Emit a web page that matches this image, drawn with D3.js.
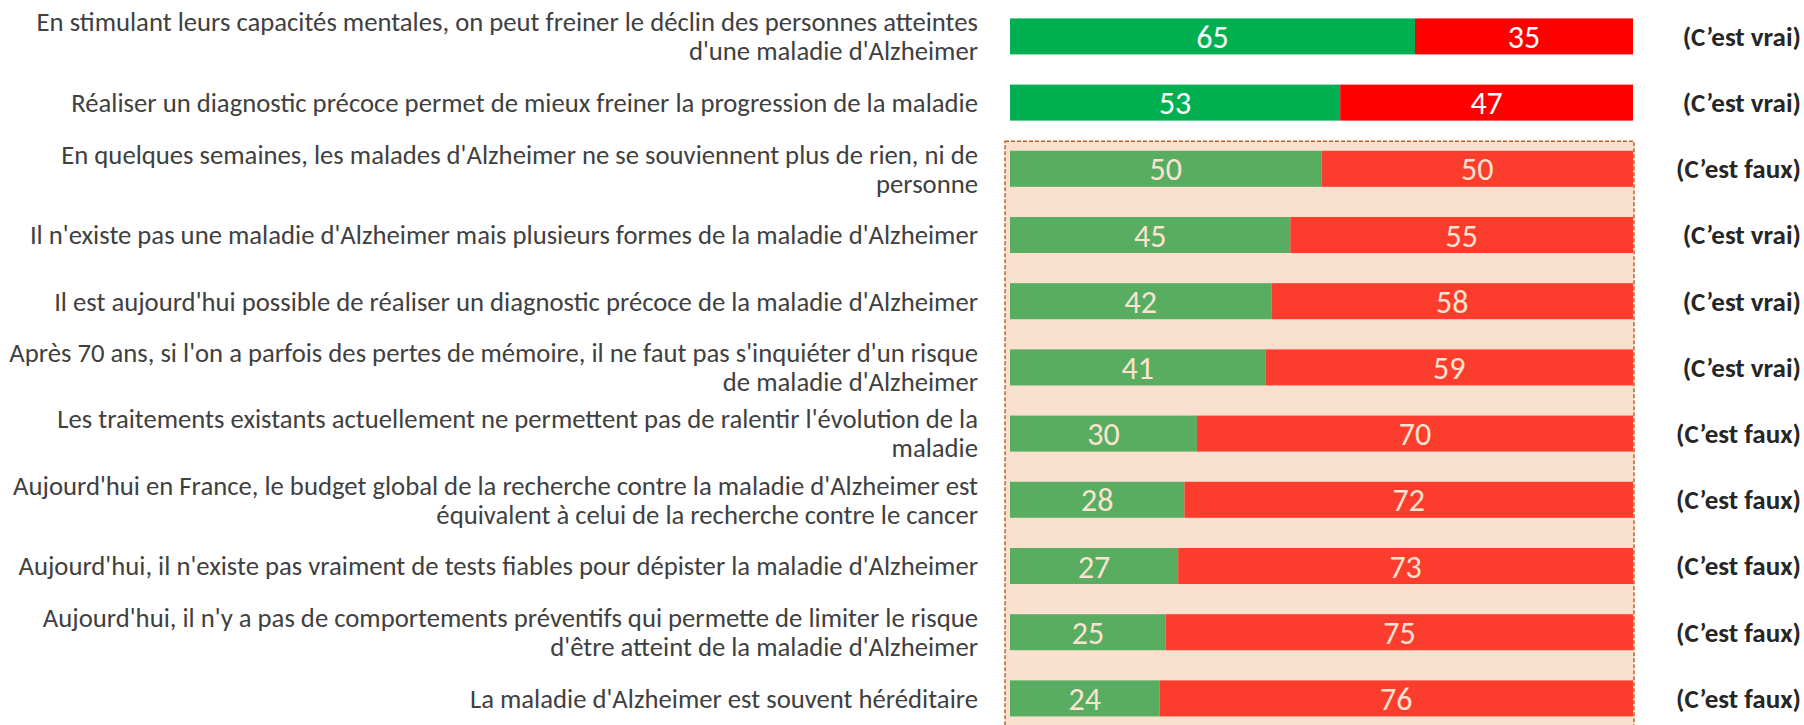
<!DOCTYPE html>
<html>
<head>
<meta charset="utf-8">
<script src="https://cdn.jsdelivr.net/npm/d3@7"></script>
<style>
  body { margin: 0; background: #fff; }
  svg { display: block; }
  text { font-family: Carlito, Lato, sans-serif; }
</style>
</head>
<body>
<script>
// statements (line breaks as in the slide)
let statements = [
  "En stimulant leurs capacités mentales, on peut freiner le déclin des personnes atteintes\nd'une maladie d'Alzheimer",
  "Réaliser un diagnostic précoce permet de mieux freiner la progression de la maladie",
  "En quelques semaines, les malades d'Alzheimer ne se souviennent plus de rien, ni de\npersonne",
  "Il n'existe pas une maladie d'Alzheimer mais plusieurs formes de la maladie d'Alzheimer",
  "Il est aujourd'hui possible de réaliser un diagnostic précoce de la maladie d'Alzheimer",
  "Après 70 ans, si l'on a parfois des pertes de mémoire, il ne faut pas s'inquiéter d'un risque\nde maladie d'Alzheimer",
  "Les traitements existants actuellement ne permettent pas de ralentir l'évolution de la\nmaladie",
  "Aujourd'hui en France, le budget global de la recherche contre la maladie d'Alzheimer est\néquivalent à celui de la recherche contre le cancer",
  "Aujourd'hui, il n'existe pas vraiment de tests fiables pour dépister la maladie d'Alzheimer",
  "Aujourd'hui, il n'y a pas de comportements préventifs qui permette de limiter le risque\nd'être atteint de la maladie d'Alzheimer",
  "La maladie d'Alzheimer est souvent héréditaire"
]
let goodAnswers = [65, 53, 50, 45, 42, 41, 30, 28, 27, 25, 24]
let badAnswers = [35, 47, 50, 55, 58, 59, 70, 72, 73, 75, 76]
let truth = ["(C’est vrai)", "(C’est vrai)", "(C’est faux)", "(C’est vrai)", "(C’est vrai)", "(C’est vrai)",
  "(C’est faux)", "(C’est faux)", "(C’est faux)", "(C’est faux)", "(C’est faux)"]

let w = 1804
let h = 725

let svg = d3.select("body").append("svg")
    .attr("width", w)
    .attr("height", h)

let ids = statements.map((s, i) => i)

let x = d3.scaleLinear()
    .domain([0, 100])
    .range([1010, 1633])

let y = d3.scaleBand()
    .domain(ids)
    .range([3.3, 731.5])
    .paddingInner(0.456)
    .paddingOuter(0.228)

// first two rows are plain, the rest sit in the highlighted box
let highlighted = i => i >= 2

// highlight box
svg.append("rect")
    .attr("x", x(0) - 5)
    .attr("y", y(2) - 9.5)
    .attr("width", x(100) - x(0) + 6)
    .attr("height", h)
    .attr("fill", "#f9e0cf")
    .attr("stroke", "#c8601a")
    .attr("stroke-width", 1.5)
    .attr("stroke-dasharray", "4,2")

let rows = svg.selectAll("g.row")
    .data(ids)
    .enter()
    .append("g")
    .attr("class", "row")

// green part
rows.append("rect")
    .attr("x", x(0))
    .attr("y", i => y(i))
    .attr("width", i => x(goodAnswers[i]) - x(0))
    .attr("height", y.bandwidth())
    .attr("fill", i => highlighted(i) ? "#58ad61" : "#00b050")

// red part
rows.append("rect")
    .attr("x", i => x(goodAnswers[i]))
    .attr("y", i => y(i))
    .attr("width", i => x(goodAnswers[i] + badAnswers[i]) - x(goodAnswers[i]))
    .attr("height", y.bandwidth())
    .attr("fill", i => highlighted(i) ? "#fc3d2e" : "#ff0000")

// values
let valColor = i => highlighted(i) ? "#fbe3d2" : "#ffffff"
rows.append("text")
    .attr("x", i => (x(0) + x(goodAnswers[i])) / 2)
    .attr("y", i => y(i) + y.bandwidth() / 2)
    .attr("dy", "0.36em")
    .attr("text-anchor", "middle")
    .attr("font-size", 32)
    .attr("fill", valColor)
    .text(i => goodAnswers[i])

rows.append("text")
    .attr("x", i => (x(goodAnswers[i]) + x(100)) / 2)
    .attr("y", i => y(i) + y.bandwidth() / 2)
    .attr("dy", "0.36em")
    .attr("text-anchor", "middle")
    .attr("font-size", 32)
    .attr("fill", valColor)
    .text(i => badAnswers[i])

// statement labels
let lineH = 29
rows.append("text")
    .attr("text-anchor", "end")
    .attr("font-size", 26.7)
    .attr("fill", "#404040")
    .each(function(i) {
        let lines = statements[i].split("\n")
        let cy = y(i) + y.bandwidth() / 2 - (lines.length - 1) * lineH / 2
        d3.select(this).selectAll("tspan")
            .data(lines)
            .enter()
            .append("tspan")
            .attr("x", 978)
            .attr("y", (d, k) => cy + k * lineH)
            .attr("dy", "0.35em")
            .text(d => d)
    })

// true / false
rows.append("text")
    .attr("x", 1801)
    .attr("y", i => y(i) + y.bandwidth() / 2)
    .attr("dy", "0.35em")
    .attr("text-anchor", "end")
    .attr("font-size", 27)
    .attr("font-weight", "bold")
    .attr("fill", "#262626")
    .text(i => truth[i])
</script>
</body>
</html>
